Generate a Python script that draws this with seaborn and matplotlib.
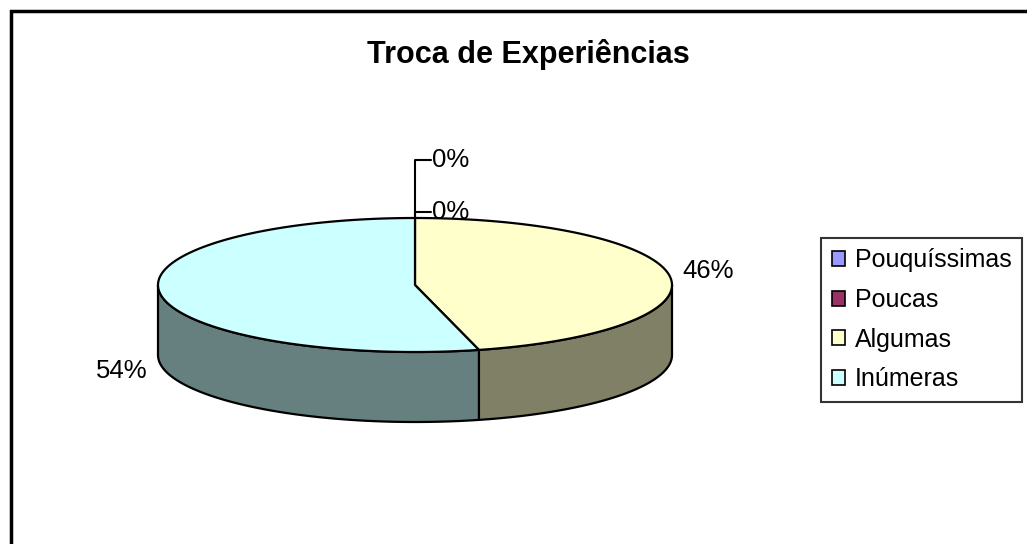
import numpy as np
import matplotlib
matplotlib.use('Agg')
import matplotlib.pyplot as plt
import matplotlib.colors as mcolors
import seaborn as sns
from matplotlib.patches import Polygon, Patch

# Dados do gráfico
categorias = ['Pouquíssimas', 'Poucas', 'Algumas', 'Inúmeras']
percentuais = [0, 0, 46, 54]
cores = ['#9999FF', '#993366', '#FFFFCC', '#CCFFFF']
titulo = 'Troca de Experiências'

sns.set_style('white')
plt.rcParams['font.family'] = ['Liberation Sans', 'DejaVu Sans']
plt.rcParams['text.color'] = 'black'

fig = plt.figure(figsize=(10.27, 5.44), dpi=100)
ax = fig.add_axes([0, 0, 1, 1])
ax.set_xlim(0, 1027)
ax.set_ylim(544, 0)
ax.axis('off')

# moldura da área do gráfico (só esquerda e topo aparecem)
ax.plot([11, 11, 1030], [550, 11, 11], color='black', lw=2.5, solid_joinstyle='miter')

# geometria da pizza 3D
cx, cy, rx, ry, prof = 415, 285, 257, 67, 70


def ponto(t, dy=0):
    return cx + rx * np.cos(t), cy - ry * np.sin(t) + dy


def escurece(c, f=0.5):
    r, g, b = mcolors.to_rgb(c)
    return (r * f, g * f, b * f)


total = sum(percentuais)
angulos = [np.pi / 2]
for v in percentuais:
    angulos.append(angulos[-1] - 2 * np.pi * v / total)

# laterais (só a metade da frente aparece)
for i, v in enumerate(percentuais):
    if v == 0:
        continue
    a0, a1 = angulos[i], angulos[i + 1]
    for base in (0, -2 * np.pi):
        lo, hi = max(a1, base - np.pi), min(a0, base)
        if hi <= lo:
            continue
        t = np.linspace(hi, lo, 100)
        xs, ys = ponto(t)
        xb, yb = ponto(t[::-1], prof)
        pts = np.column_stack([np.r_[xs, xb], np.r_[ys, yb]])
        ax.add_patch(Polygon(pts, closed=True, facecolor=escurece(cores[i]),
                             edgecolor='black', lw=1.6, joinstyle='round'))

# topo
for i, v in enumerate(percentuais):
    if v == 0:
        continue
    t = np.linspace(angulos[i], angulos[i + 1], 200)
    xs, ys = ponto(t)
    pts = np.column_stack([np.r_[cx, xs], np.r_[cy, ys]])
    ax.add_patch(Polygon(pts, closed=True, facecolor=cores[i],
                         edgecolor='black', lw=1.6, joinstyle='round'))

# rótulos de porcentagem
zeros = [i for i, v in enumerate(percentuais) if v == 0]
for i, v in enumerate(percentuais):
    meio = (angulos[i] + angulos[i + 1]) / 2
    px, py = ponto(meio)
    if v == 0:
        k = len(zeros) - 1 - zeros.index(i)
        ly = py - 6 - 52 * k
        ax.plot([px, px, px + 16], [py, ly, ly], color='black', lw=1.5)
        ax.text(px + 17, ly, f'{v}%', fontsize=18.5, va='center', ha='left')
    else:
        frente = np.sin(meio) < 0
        lx = cx + (rx + 13) * np.cos(meio)
        ly = py + (prof + 8 if frente else -6)
        ha = 'left' if np.cos(meio) > 0 else 'right'
        ax.text(lx, ly, f'{v}%', fontsize=18.5, va='center', ha=ha)

ax.text(528, 55, titulo, fontsize=22, fontweight='bold', ha='center', va='center')

handles = [Patch(facecolor=c, edgecolor='black', lw=1.2) for c in cores]
leg = fig.legend(handles, categorias, loc='upper left',
                 bbox_to_anchor=(821 / 1027, 1 - 238 / 544),
                 fontsize=18, frameon=True, fancybox=False, shadow=False,
                 handlelength=0.55, handleheight=0.55, handletextpad=0.38,
                 labelspacing=0.62, borderpad=0.42, borderaxespad=0)
leg.get_frame().set_edgecolor('black')
leg.get_frame().set_linewidth(1.5)

fig.savefig('out.png', dpi=100)
